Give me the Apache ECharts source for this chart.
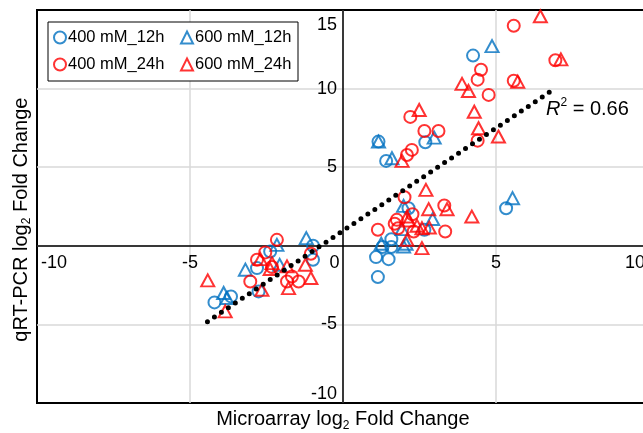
<!DOCTYPE html>
<html><head><meta charset="utf-8">
<script src="https://cdn.jsdelivr.net/npm/echarts@6/dist/echarts.min.js"></script>
<style>html,body{margin:0;padding:0;background:#fff}#c{width:643px;height:433px}</style>
</head><body><div id="c"></div>
<script>
const FONT = '"Liberation Sans", Arial, sans-serif';
const seriesNames = ['400 mM_12h', '600 mM_12h', '400 mM_24h', '600 mM_24h'];
const xTickLabels = ['-10', '-5', '0', '5', '10'];
const yTickLabels = ['-10', '-5', '5', '10', '15'];
const rSquared = '0.66';

const s400_12h = [[4.25,12.1],[2.69,6.59],[1.16,6.63],[1.41,5.4],[2.14,2.39],[2.66,1.02],[5.33,2.39],[1.58,0.42],[1.29,-0.08],[1.58,-0.08],[1.08,-0.72],[1.49,-0.85],[1.14,-1.99],[-0.98,0.0],[-0.98,-0.89],[-2.38,-0.36],[-2.81,-1.42],[-2.76,-2.9],[-3.66,-3.22],[-4.2,-3.6]];
const s600_12h = [[4.87,12.7],[2.98,6.88],[1.16,6.63],[1.6,5.57],[1.98,2.54],[2.93,1.7],[1.93,1.06],[5.54,3.03],[1.25,0.13],[1.98,-0.04],[2.06,0.13],[-1.2,0.49],[-2.16,0.06],[-2.07,-1.21],[-3.19,-1.52],[-3.9,-3.0],[-3.79,-3.32]];
const s400_24h = [[5.58,14.0],[6.94,11.8],[4.51,11.2],[4.4,10.57],[5.58,10.5],[4.76,9.6],[2.2,8.2],[2.66,7.3],[3.12,7.3],[4.4,6.69],[2.09,5.78],[2.25,6.1],[2.01,3.09],[3.31,2.56],[2.27,2.01],[1.76,1.65],[1.69,1.4],[1.8,1.12],[2.31,0.91],[3.34,0.91],[1.14,1.02],[-1.05,-0.51],[-2.16,0.38],[-2.54,-0.42],[-2.81,-0.89],[-2.32,-1.35],[-1.67,-1.95],[-1.83,-2.27],[-1.45,-2.27],[-3.03,-2.27]];
const s600_24h = [[6.45,14.6],[7.12,11.86],[5.71,10.44],[3.89,10.3],[4.1,9.85],[4.29,8.53],[2.49,8.64],[4.43,7.48],[5.08,6.95],[1.93,5.4],[2.71,3.56],[2.8,2.33],[3.4,2.33],[2.09,1.86],[2.14,1.61],[2.42,1.27],[2.58,1.12],[2.82,1.16],[4.21,1.86],[2.09,0.38],[2.58,-0.15],[-1.23,-1.21],[-1.05,-2.05],[-2.7,-0.85],[-2.32,-1.1],[-2.38,-1.48],[-1.83,-1.31],[-1.78,-2.69],[-2.65,-2.8],[-4.42,-2.2],[-3.85,-4.17]];
const trendX = [-4.43, 6.9];
const trendY = [-4.83, 9.97];

const BLUE = '#0070C0', RED = '#FF0000';
const seriesData = [s400_12h, s600_12h, s400_24h, s600_24h];
const seriesColor = [BLUE, BLUE, RED, RED];
const seriesSymbol = ['circle', 'triangle', 'circle', 'triangle'];

const lbl = { fontSize: 18, color: '#000', fontFamily: FONT };
const ttl = { fontSize: 20, lineHeight: 20, color: '#000', fontFamily: FONT, verticalAlign: 'top' };
const sub = { fontSize: 12, lineHeight: 12, color: '#000', fontFamily: FONT, verticalAlign: 'bottom' };
const sp = { fontSize: 1, lineHeight: 22, verticalAlign: 'top' };

// plot box in pixels (used only to place the zero-crossing axes)
const G = { left: 37, right: -6, top: 10, bottom: 30 };
const plotW = 643 - G.left - G.right, plotH = 433 - G.top - G.bottom;
const xMin = -10, xMax = 10, yMin = -10, yMax = 15;
const xAxisOffset = -plotH * (0 - yMin) / (yMax - yMin);
const yAxisOffset = -plotW * (0 - xMin) / (xMax - xMin);

const chart = echarts.init(document.getElementById('c'), null, { renderer: 'canvas' });
const option = {
  animation: false,
  backgroundColor: '#fff',
  textStyle: { fontFamily: FONT },
  grid: { ...G, show: true, borderColor: '#000', borderWidth: 2, containLabel: false, outerBoundsMode: 'none' },
  legend: {
    left: 48, top: 22, orient: 'horizontal', width: 266,
    padding: [7, 1, 8, 5], itemGap: 10, itemWidth: 12, itemHeight: 12,
    borderColor: '#000', borderWidth: 1, backgroundColor: '#fff',
    textStyle: { fontSize: 16.5, color: '#000', fontFamily: FONT, width: 102, lineHeight: 12, overflow: 'none', padding: [0, 0, 0, -3] },
    data: seriesNames.map((n, i) => ({ name: n, icon: seriesSymbol[i],
      itemStyle: { color: 'rgba(255,255,255,0)', borderColor: seriesColor[i], borderWidth: 2 } }))
  },
  xAxis: {
    type: 'value', min: xMin, max: xMax, interval: 5, position: 'bottom', offset: xAxisOffset,
    axisLine: { onZero: false, lineStyle: { color: '#000', width: 1.5 } },
    axisTick: { show: false },
    splitLine: { show: true, showMinLine: false, showMaxLine: false, lineStyle: { color: '#d9d9d9', width: 1.5 } },
    axisLabel: {
      margin: 8, showMinLabel: true, showMaxLabel: true, hideOverlap: false, ...lbl,
      formatter: v => {
        const s = xTickLabels[xTickLabels.indexOf(String(v))] || String(v);
        if (v === -10) return '{l|' + s + '}';
        if (v === 10) return '{r|' + s + '}';
        if (v === 0) return '{z|' + s + '}';
        return s;
      },
      rich: { l: { ...lbl, padding: [0, 0, 0, 34] }, r: { ...lbl, padding: [0, 28, 0, 0] }, z: { ...lbl, padding: [0, 17, 0, 0] } }
    },
    name: '{t|Microarray log}{sub|2}{t| Fold Change}{sp| }',
    nameLocation: 'middle', nameGap: 164,
    nameTextStyle: { rich: { t: ttl, sub: sub, sp: sp } }
  },
  yAxis: {
    type: 'value', min: yMin, max: yMax, interval: 5, position: 'left', offset: yAxisOffset,
    axisLine: { onZero: false, lineStyle: { color: '#000', width: 1.5 } },
    axisTick: { show: false },
    splitLine: { show: true, showMinLine: false, showMaxLine: false, lineStyle: { color: '#d9d9d9', width: 1.5 } },
    axisLabel: {
      margin: 6, showMinLabel: true, showMaxLabel: true, hideOverlap: false, ...lbl,
      formatter: v => {
        if (v === 0) return '';
        const s = yTickLabels[yTickLabels.indexOf(String(v))] || String(v);
        if (v === 15) return '{t|' + s + '}';
        if (v === -10) return '{b|' + s + '}';
        return s;
      },
      rich: { t: { ...lbl, padding: [30, 0, 0, 0] }, b: { ...lbl, padding: [0, 0, 17, 0] } }
    },
    name: '{t|qRT-PCR log}{sub|2}{t| Fold Change}{sp| }',
    nameLocation: 'middle', nameGap: 310, nameRotate: 90,
    nameTextStyle: { padding: [0, 26, 0, 0], rich: { t: ttl, sub: sub, sp: sp } }
  },
  graphic: [{
    type: 'text', left: 546, top: 97, z: 100,
    style: {
      text: '{i|R}{sup|2}{m| = ' + rSquared + '}{sp| }',
      rich: {
        i: { fontSize: 20, lineHeight: 20, fontStyle: 'italic', fontFamily: FONT, fill: '#000', verticalAlign: 'bottom' },
        sup: { fontSize: 12, lineHeight: 12, fontFamily: FONT, fill: '#000', verticalAlign: 'top' },
        m: { fontSize: 20, lineHeight: 20, fontFamily: FONT, fill: '#000', verticalAlign: 'bottom' },
        sp: { fontSize: 1, lineHeight: 22, verticalAlign: 'top' }
      }
    }
  }],
  series: seriesNames.map((n, i) => ({
    name: n, type: 'scatter', data: seriesData[i], symbol: seriesSymbol[i],
    symbolSize: seriesSymbol[i] === 'circle' ? 12 : [13, 12],
    itemStyle: { color: 'rgba(255,255,255,0)', borderColor: seriesColor[i], borderWidth: 2 },
    emphasis: { disabled: true }, z: 3
  })).concat([{
    name: 'trend', type: 'line', data: trendX.map((x, i) => [x, trendY[i]]),
    symbol: 'none', silent: true, z: 5,
    lineStyle: { color: '#000', width: 5, type: [0, 8.4], cap: 'round' }
  }])
};
chart.setOption(option);
</script>
</body></html>
